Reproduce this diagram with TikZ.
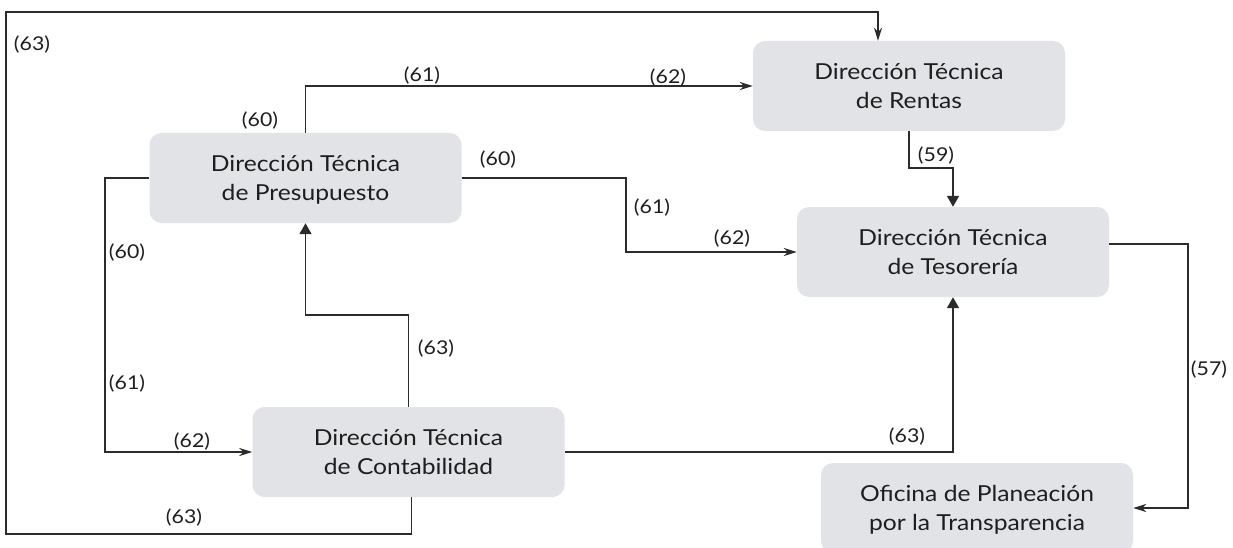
\documentclass[tikz,border=0pt]{standalone}
\usepackage{fontspec}
\setmainfont{Lato}[FakeStretch=1.12]
\usetikzlibrary{arrows.meta}
\definecolor{boxfill}{HTML}{E1E3E7}
\definecolor{linecol}{HTML}{2B2B2B}
\definecolor{txtcol}{HTML}{1E1E1E}
\tikzset{
  unit/.style={draw=none, fill=boxfill, rounded corners=12pt, minimum width=312pt,
    minimum height=90pt, align=center, text=txtcol, text depth=-5pt,
    font=\fontsize{22}{29}\selectfont},
  lbl/.style={text=txtcol, inner sep=0pt, font=\fontsize{19}{21}\selectfont},
  conn/.style={draw=linecol, line width=1.8pt},
  thin/.style={conn, -{Stealth[length=13pt,width=8pt,inset=4pt]}},
  bold/.style={conn, -{Triangle[length=11pt,width=12pt]}}
}
\begin{document}
\begin{tikzpicture}[x=1pt,y=-1pt]
\clip (0,0) rectangle (1233,548);
\fill[white] (0,0) rectangle (1233,548);
% boxes
\node[unit] (pres) at (305.5,178) {Dirección Técnica\\de Presupuesto};
\node[unit] (rent) at (909,86) {Dirección Técnica\\de Rentas};
\node[unit] (teso) at (953,252) {Dirección Técnica\\de Tesorería};
\node[unit] (cont) at (408.5,452) {Dirección Técnica\\de Contabilidad};
\node[unit] (ofic) at (977,508) {Oficina de Planeación\\por la Transparencia};
% helper coordinates
\coordinate (kright) at (626,0);
\coordinate (kleft) at (105,0);
\coordinate (kmid) at (408.5,315);
\coordinate (kbl) at (6,534);
\coordinate (ktl) at (6,12);
\coordinate (kren) at (909,168);
\coordinate (kfar) at (1188,0);
% connectors
\draw[thin] (pres.north) |- (rent.west);
\draw[thin] (pres.east) -| (kright |- teso.west) -- (teso.west);
\draw[thin] (pres.west) -| (kleft |- cont.west) -- (cont.west);
\draw[bold] (cont.north) -- (kmid) -| (pres.south);
\draw[bold] (cont.east) -| (teso.south);
\draw[thin] ([xshift=3pt]cont.south) |- (kbl) -- (ktl) -| ([xshift=-31pt]rent.north);
\draw[bold] (rent.south) -- (kren) -| (teso.north);
\draw[thin] ([yshift=8pt]teso.east) -| (kfar |- ofic.east) -- (ofic.east);
% labels
\node[lbl] (l1) at (32,45) {(63)};
\node[lbl] (l2) at (260,121) {(60)};
\node[lbl] (l3) at (422,76) {(61)};
\node[lbl] (l4) at (668,78) {(62)};
\node[lbl] (l5) at (498,160) {(60)};
\node[lbl] (l6) at (652,208) {(61)};
\node[lbl] (l7) at (732,239) {(62)};
\node[lbl] (l8) at (936,156) {(59)};
\node[lbl] (l9) at (127,253) {(60)};
\node[lbl] (l10) at (127,384) {(61)};
\node[lbl] (l11) at (192,442) {(62)};
\node[lbl] (l12) at (436,349) {(63)};
\node[lbl] (l13) at (184,518) {(63)};
\node[lbl] (l14) at (907,437) {(63)};
\node[lbl] (l15) at (1209,370) {(57)};
\end{tikzpicture}
\end{document}
